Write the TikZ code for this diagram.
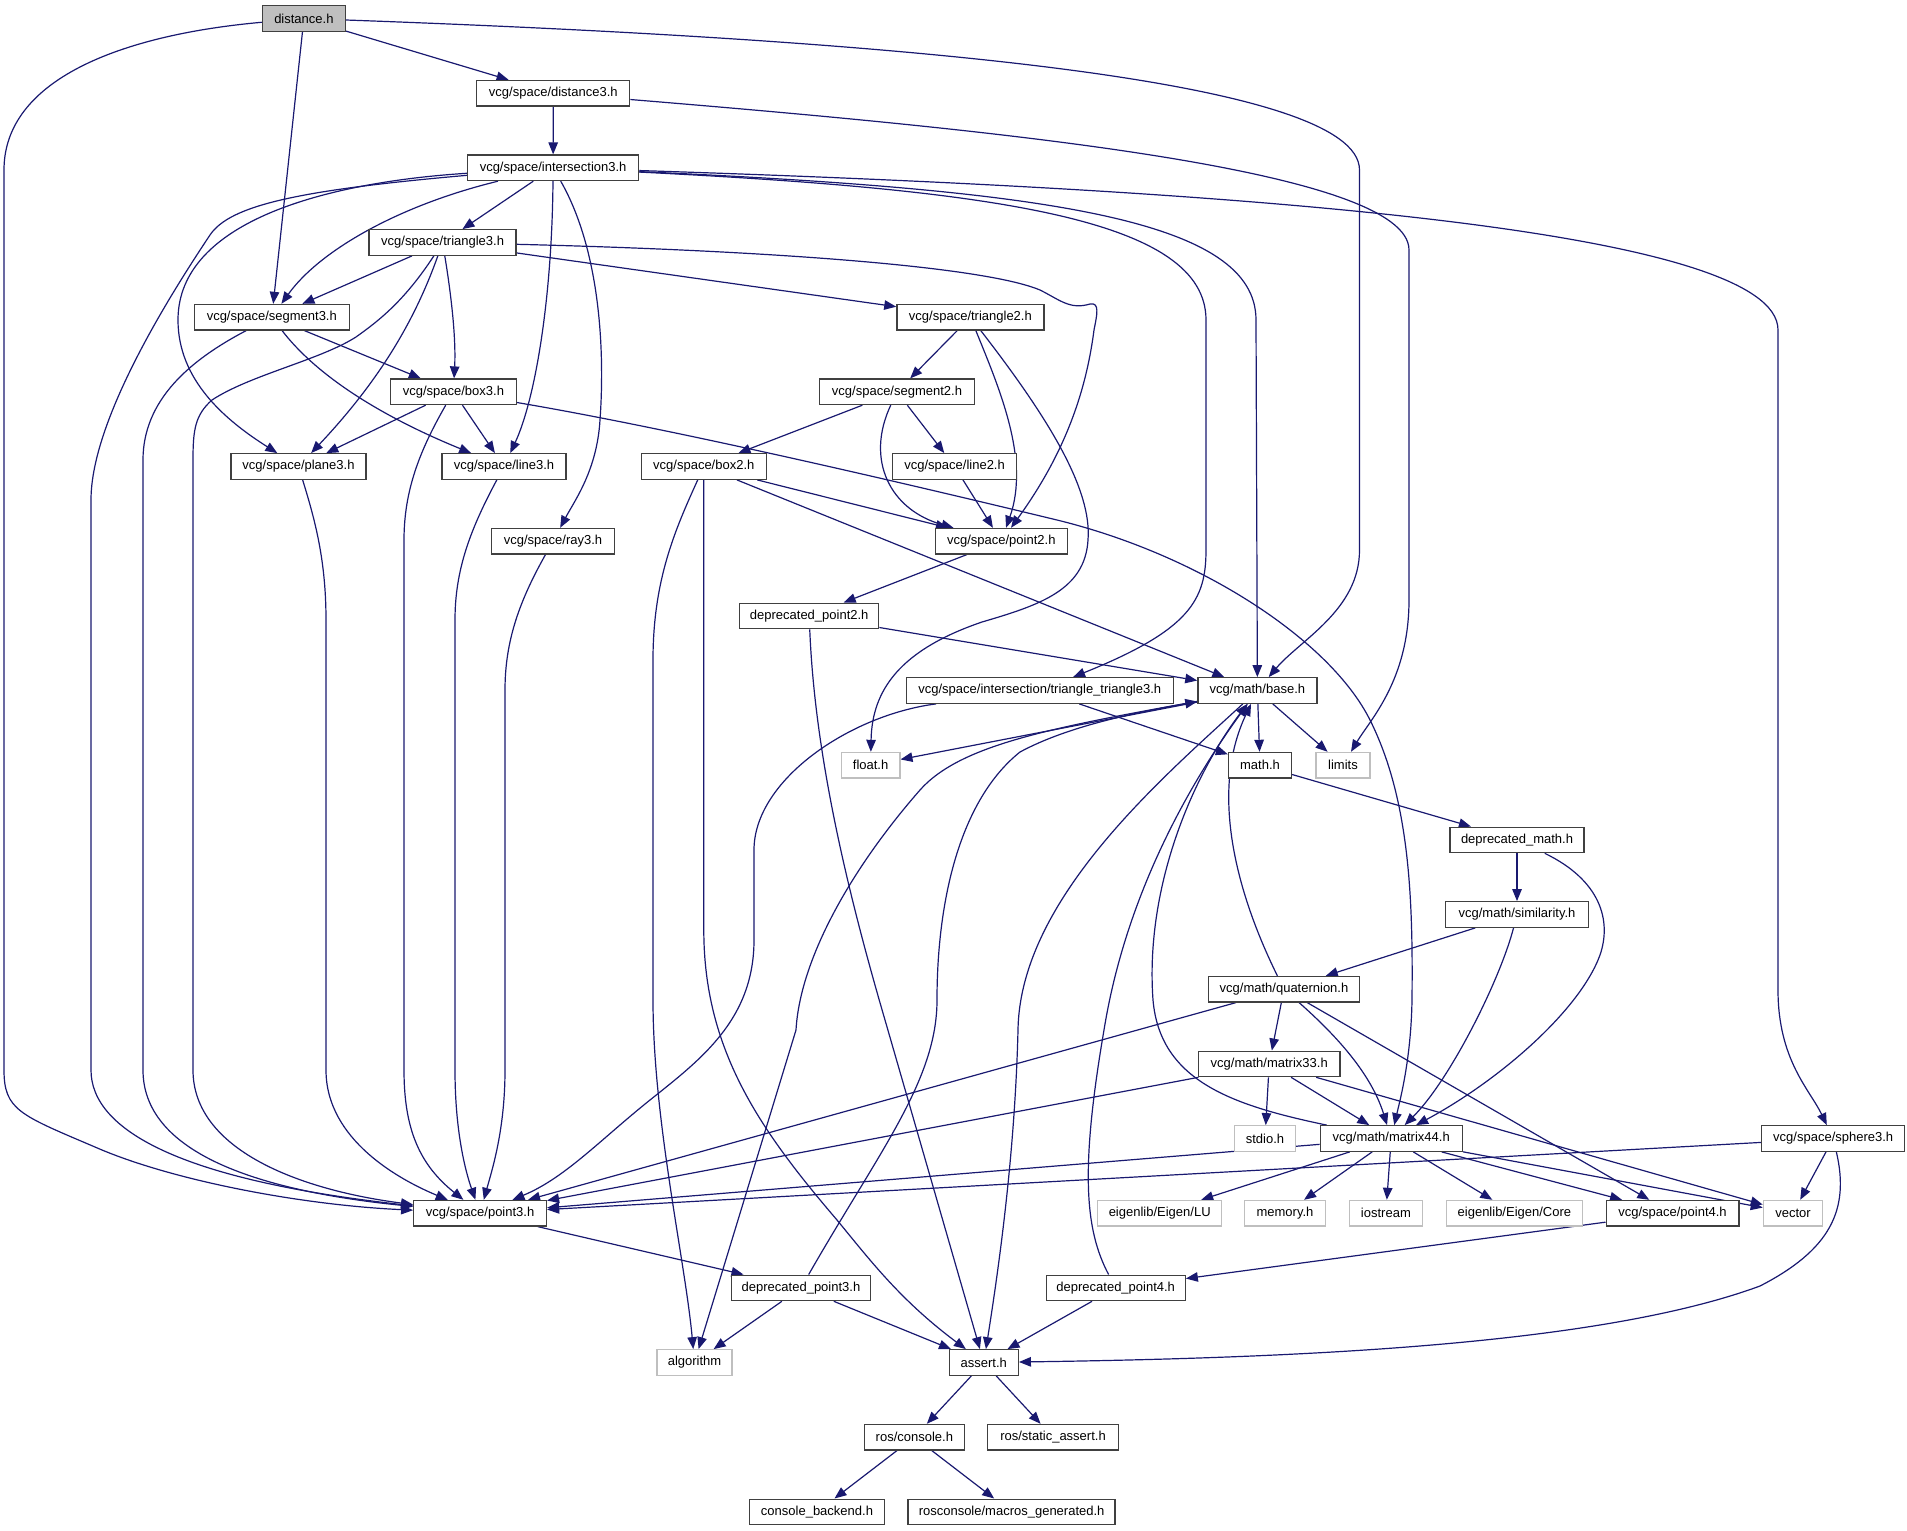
\documentclass[tikz,border=0pt]{standalone}
\usepackage{fontspec}
\setmainfont{Liberation Sans}
\usetikzlibrary{arrows.meta}
\definecolor{edgec}{RGB}{25,25,112}
\definecolor{gfill}{RGB}{191,191,191}
\definecolor{gborder}{RGB}{191,191,191}
\definecolor{nborder}{RGB}{64,64,64}
\pgfdeclarelayer{edges}
\pgfsetlayers{edges,main}
\tikzset{
  nd/.style={draw=nborder, line width=1.3pt, fill=white, minimum height=25.5pt, inner xsep=2pt, inner ysep=0pt, font=\fontsize{13}{15}\selectfont, text=black},
  gnd/.style={nd, draw=gborder},
  e/.style={draw=edgec, line width=1.2pt, -{Triangle[length=12pt,width=9.5pt]}},
}
\begin{document}
\begin{tikzpicture}[x=1pt,y=-1pt]
\useasboundingbox (0,0) rectangle (1907,1531);
\node[nd,minimum width=83pt,fill=gfill] (dist) at (303.9,18.5) {distance.h};
\node[nd,minimum width=153pt] (d3) at (553.3,93.2) {vcg/space/distance3.h};
\node[nd,minimum width=171pt] (i3) at (553.1,167.8) {vcg/space/intersection3.h};
\node[nd,minimum width=147pt] (t3) at (442.6,242.5) {vcg/space/triangle3.h};
\node[nd,minimum width=155pt] (s3) at (271.8,317.2) {vcg/space/segment3.h};
\node[nd,minimum width=147pt] (t2) at (970.4,317.2) {vcg/space/triangle2.h};
\node[nd,minimum width=126pt] (b3) at (453.4,391.8) {vcg/space/box3.h};
\node[nd,minimum width=155pt] (s2) at (897,391.8) {vcg/space/segment2.h};
\node[nd,minimum width=135pt] (p3) at (298.5,466.5) {vcg/space/plane3.h};
\node[nd,minimum width=124pt] (l3) at (504,466.5) {vcg/space/line3.h};
\node[nd,minimum width=125pt] (b2) at (703.8,466.5) {vcg/space/box2.h};
\node[nd,minimum width=124pt] (l2) at (954.6,466.5) {vcg/space/line2.h};
\node[nd,minimum width=123pt] (r3) at (553,541.2) {vcg/space/ray3.h};
\node[nd,minimum width=132pt] (p2) at (1001.3,541.2) {vcg/space/point2.h};
\node[nd,minimum width=139pt] (dp2) at (809.2,615.9) {deprecated\_point2.h};
\node[nd,minimum width=267pt] (tt3) at (1039.8,690.5) {vcg/space/intersection/triangle\_triangle3.h};
\node[nd,minimum width=119pt] (base) at (1257.4,690.5) {vcg/math/base.h};
\node[gnd,minimum width=58.5pt] (float) at (870.6,765.2) {float.h};
\node[nd,minimum width=63pt] (math) at (1260,765.2) {math.h};
\node[gnd,minimum width=54pt] (limits) at (1343,765.2) {limits};
\node[nd,minimum width=134pt] (dmath) at (1517,839.9) {deprecated\_math.h};
\node[nd,minimum width=143.5pt] (sim) at (1517,914.5) {vcg/math/similarity.h};
\node[nd,minimum width=151pt] (quat) at (1284,989.2) {vcg/math/quaternion.h};
\node[nd,minimum width=141.6pt] (m33) at (1269.2,1063.9) {vcg/math/matrix33.h};
\node[gnd,minimum width=61.5pt] (stdio) at (1265,1138.5) {stdio.h};
\node[nd,minimum width=142pt] (m44) at (1391.2,1138.5) {vcg/math/matrix44.h};
\node[nd,minimum width=143pt] (sph) at (1833.2,1138.5) {vcg/space/sphere3.h};
\node[nd,minimum width=132.7pt] (pt3) at (480.1,1213.2) {vcg/space/point3.h};
\node[gnd,minimum width=124pt] (lu) at (1159.7,1213.2) {eigenlib/Eigen/LU};
\node[gnd,minimum width=80.7pt] (mem) at (1285,1213.2) {memory.h};
\node[gnd,minimum width=72.5pt] (ios) at (1385.9,1213.2) {iostream};
\node[gnd,minimum width=135.6pt] (core) at (1514.4,1213.2) {eigenlib/Eigen/Core};
\node[nd,minimum width=132.7pt] (pt4) at (1672.5,1213.2) {vcg/space/point4.h};
\node[gnd,minimum width=59.3pt] (vec) at (1793,1213.2) {vector};
\node[nd,minimum width=139pt] (dp3) at (801,1287.9) {deprecated\_point3.h};
\node[nd,minimum width=139pt] (dp4) at (1115.7,1287.9) {deprecated\_point4.h};
\node[gnd,minimum width=75pt] (alg) at (694.5,1362.5) {algorithm};
\node[nd,minimum width=69pt] (assert) at (983.8,1362.5) {assert.h};
\node[nd,minimum width=100pt] (rcon) at (914.4,1437.2) {ros/console.h};
\node[nd,minimum width=131pt] (rsa) at (1053,1437.2) {ros/static\_assert.h};
\node[nd,minimum width=135pt] (cb) at (817,1511.9) {console\_backend.h};
\node[nd,minimum width=207pt] (rmg) at (1011.6,1511.9) {rosconsole/macros\_generated.h};

\begin{pgfonlayer}{edges}
% distance.h
\draw[e] (dist) -- (s3);
\draw[e] (dist) -- (d3);
\draw[e] (dist) .. controls (120,35) and (4,80) .. (4,170) -- (4,1070) .. controls (4,1110) and (20,1115) .. (95,1147) .. controls (170,1180) and (300,1205) .. (pt3);
\draw[e] (dist) .. controls (900,40) and (1359.5,80) .. (1359.5,170) -- (1359.5,550) .. controls (1359.5,610) and (1300,640) .. (base);
% distance3.h
\draw[e] (d3) -- (i3);
\draw[e] (d3) .. controls (1000,130) and (1409,170) .. (1409,250) -- (1409,600) .. controls (1409,680) and (1370,720) .. (limits);
% intersection3.h
\draw[e] (i3) -- (t3);
\draw[e] (i3) .. controls (400,205) and (320,250) .. (s3);
\draw[e] (i3) .. controls (330,182) and (178,220) .. (178,320) .. controls (178,380) and (225,420) .. (p3);
\draw[e] (i3) .. controls (300,190) and (230,205) .. (210,235) .. controls (170,295) and (91,420) .. (91,500) -- (91,1070) .. controls (91,1130) and (180,1180) .. (pt3);
\draw[e] (i3) .. controls (552,300) and (535,400) .. (l3);
\draw[e] (i3) .. controls (600,250) and (605,350) .. (600,420) .. controls (597,470) and (575,500) .. (r3);
\draw[e] (i3) .. controls (1000,190) and (1206,220) .. (1206,320) -- (1206,550) .. controls (1206,600) and (1190,630) .. (tt3);
\draw[e] (i3) .. controls (1050,190) and (1256,220) .. (1256,320) -- (base);
\draw[e] (i3) .. controls (1250,190) and (1778,230) .. (1778,330) -- (1778,990) .. controls (1778,1060) and (1810,1090) .. (sph);
% triangle3.h
\draw[e] (t3) -- (s3);
\draw[e] (t3) .. controls (452,300) and (456,340) .. (b3);
\draw[e] (t3) .. controls (415,320) and (380,380) .. (p3);
\draw[e] (t3) .. controls (405,300) and (380,320) .. (356,337) .. controls (320,360) and (250,375) .. (212,400) .. controls (195,415) and (193,430) .. (193,460) -- (193,1070) .. controls (193,1150) and (300,1190) .. (pt3);
\draw[e] (t3) -- (t2);
\draw[e] (t3) .. controls (750,250) and (980,265) .. (1040,290) .. controls (1060,300) and (1070,310) .. (1090,304) .. controls (1100,302) and (1097,315) .. (1094,330) .. controls (1085,400) and (1060,460) .. (p2);
% segment3.h
\draw[e] (s3) -- (b3);
\draw[e] (s3) .. controls (320,380) and (390,420) .. (l3);
\draw[e] (s3) .. controls (190,360) and (143,400) .. (143,460) -- (143,1070) .. controls (143,1150) and (250,1190) .. (pt3);
% triangle2.h
\draw[e] (t2) -- (s2);
\draw[e] (t2) .. controls (1000,390) and (1030,460) .. (p2);
\draw[e] (t2) .. controls (1050,420) and (1092,490) .. (1088,540) .. controls (1085,590) and (1040,605) .. (982,622) .. controls (900,650) and (872,690) .. (float);
% segment2.h
\draw[e] (s2) -- (b2);
\draw[e] (s2) -- (l2);
\draw[e] (s2) .. controls (865,460) and (890,510) .. (p2);
\draw[e] (l2) -- (p2);
% box2.h
\draw[e] (b2) -- (p2);
\draw[e] (b2) -- (base);
\draw[e] (b2) .. controls (675,530) and (653,580) .. (653,660) -- (653,1000) .. controls (653,1120) and (685,1260) .. (alg);
\draw[e] (b2.south) -- (703.8,930) .. controls (703.8,1050) and (760,1130) .. (837,1220) .. controls (870,1260) and (900,1300) .. (assert);
% box3.h
\draw[e] (b3) -- (p3);
\draw[e] (b3) -- (l3);
\draw[e] (b3) .. controls (420,450) and (404,490) .. (404,540) -- (404,1070) .. controls (404,1130) and (420,1165) .. (pt3);
\draw[e] (b3) .. controls (650,425) and (850,470) .. (1057,520) .. controls (1200,555) and (1330,640) .. (1370,720) .. controls (1410,800) and (1413,900) .. (1412,1000) .. controls (1411,1060) and (1400,1100) .. (m44);
% plane3, line3, ray3
\draw[e] (p3) .. controls (315,520) and (326,560) .. (326,620) -- (326,1070) .. controls (326,1140) and (400,1180) .. (pt3);
\draw[e] (l3) .. controls (470,530) and (455,570) .. (455,620) -- (455,1070) .. controls (455,1130) and (465,1170) .. (pt3);
\draw[e] (r3) .. controls (520,600) and (505,640) .. (505,690) -- (505,1070) .. controls (505,1130) and (492,1170) .. (pt3);
% point2, deprecated_point2
\draw[e] (p2) -- (dp2);
\draw[e] (dp2) -- (base);
\draw[e] (dp2) .. controls (815,760) and (850,900) .. (885,1020) -- (assert);
% triangle_triangle3
\draw[e] (tt3) .. controls (850,715) and (754,780) .. (754,850) -- (754,940) .. controls (754,1020) and (700,1060) .. (650,1100) .. controls (600,1140) and (565,1178) .. (pt3);
\draw[e] (tt3) -- (math);
% base.h
\draw[e] (base) -- (math);
\draw[e] (base) -- (limits);
\draw[e] (base) -- (float);
\draw[e] (base) .. controls (1050,728) and (960,745) .. (920,790) .. controls (850,870) and (800,960) .. (796,1030) -- (alg);
\draw[e] (base) .. controls (1160,780) and (1020,900) .. (1018,1030) .. controls (1015,1150) and (1000,1260) .. (assert);
% math chain
\draw[e] (math) -- (dmath);
\draw[e] (dmath) -- (sim);
\draw[e] (dmath) .. controls (1600,880) and (1612,920) .. (1600,955) .. controls (1580,1010) and (1500,1080) .. (m44);
\draw[e] (sim) -- (quat);
\draw[e] (sim) .. controls (1500,980) and (1450,1080) .. (m44);
% quaternion
\draw[e] (quat) .. controls (1235,890) and (1210,790) .. (base);
\draw[e] (quat) -- (pt3);
\draw[e] (quat) -- (m33);
\draw[e] (quat) .. controls (1330,1030) and (1370,1070) .. (m44);
\draw[e] (quat) -- (pt4);
% matrix33
\draw[e] (m33) -- (pt3);
\draw[e] (m33) -- (stdio);
\draw[e] (m33) -- (m44);
\draw[e] (m33) -- (vec);
% matrix44
\draw[e] (m44) .. controls (1230,1105) and (1160,1080) .. (1153,1000) .. controls (1145,890) and (1190,780) .. (base);
\draw[e] (m44) -- (pt3);
\draw[e] (m44) -- (lu);
\draw[e] (m44) -- (mem);
\draw[e] (m44) -- (ios);
\draw[e] (m44) -- (core);
\draw[e] (m44) -- (pt4);
\draw[e] (m44) -- (vec);
% sphere3
\draw[e] (sph) -- (pt3);
\draw[e] (sph) -- (vec);
\draw[e] (sph) .. controls (1850,1210) and (1830,1250) .. (1760,1286) .. controls (1600,1345) and (1300,1358) .. (assert);
% point3, point4
\draw[e] (pt3) -- (dp3);
\draw[e] (pt4) -- (dp4);
% deprecated_point3
\draw[e] (dp3) .. controls (880,1150) and (937,1080) .. (937,1000) .. controls (937,900) and (960,800) .. (1020,752) .. controls (1070,725) and (1140,712) .. (base);
\draw[e] (dp3) -- (alg);
\draw[e] (dp3) -- (assert);
% deprecated_point4
\draw[e] (dp4) .. controls (1085,1230) and (1080,1170) .. (1104,1030) .. controls (1125,900) and (1185,790) .. (base);
\draw[e] (dp4) -- (assert);
% assert and below
\draw[e] (assert) -- (rcon);
\draw[e] (assert) -- (rsa);
\draw[e] (rcon) -- (cb);
\draw[e] (rcon) -- (rmg);
\end{pgfonlayer}
\end{tikzpicture}
\end{document}
